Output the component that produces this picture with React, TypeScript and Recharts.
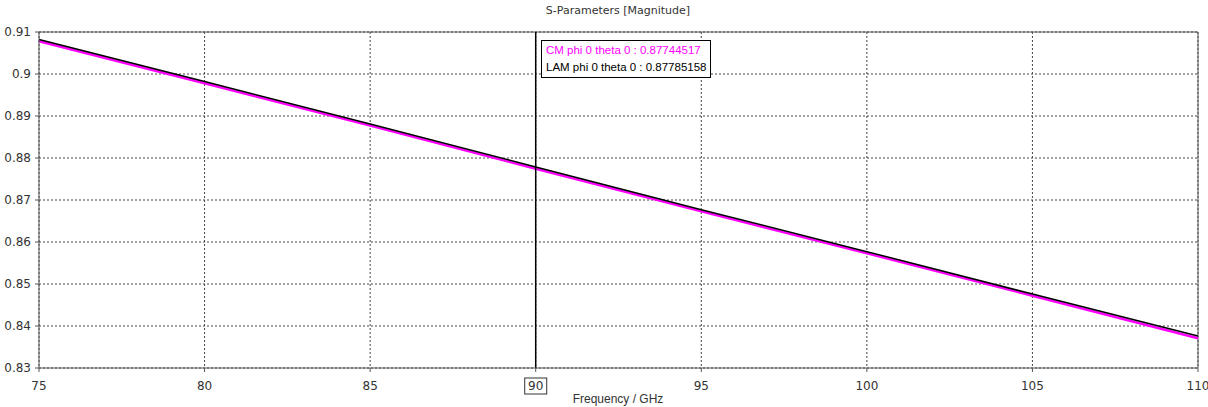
import React from "react";
import { LineChart, Line, XAxis, YAxis, CartesianGrid, ReferenceLine } from "recharts";

const freqs = [75, 80, 85, 90, 95, 100, 105, 110];
const cmValues = [0.9078, 0.8978, 0.8877, 0.87744517, 0.8673, 0.8573, 0.8472, 0.8371];
const lamValues = [0.9082, 0.8982, 0.8881, 0.87785158, 0.8677, 0.8577, 0.8476, 0.8376];
const xTicks = [75, 80, 85, 90, 95, 100, 105, 110];
const yTicks = [0.83, 0.84, 0.85, 0.86, 0.87, 0.88, 0.89, 0.9, 0.91];
const markerFreq = 90;
const title = "S-Parameters [Magnitude]";
const xLabel = "Frequency / GHz";
const legendLines = [
  { text: "CM phi 0 theta 0 : 0.87744517", color: "#ff00ff" },
  { text: "LAM phi 0 theta 0 : 0.87785158", color: "#000000" },
];

const data = freqs.map((f, i) => ({ f, cm: cmValues[i], lam: lamValues[i] }));

const FONT = "Tahoma, 'DejaVu Sans', sans-serif";
const LFONT = "'Liberation Sans', Arial, sans-serif";

const XTick = (props: any) => {
  const { x, y, payload } = props;
  const v = payload.value;
  const label = String(v);
  if (v === markerFreq) {
    return (
      <g>
        <rect x={x - 11} y={y + 4} width={22} height={16} fill="#fff" stroke="#333" strokeWidth={1} />
        <text x={x} y={y + 16} textAnchor="middle" fontSize={12} fill="#333" fontFamily={FONT}>{label}</text>
      </g>
    );
  }
  return (
    <text x={x} y={y + 16} textAnchor="middle" fontSize={12} fill="#333" fontFamily={FONT}>{label}</text>
  );
};

const YTick = (props: any) => {
  const { x, y, payload } = props;
  const v = payload.value;
  const label = v === 0.9 ? "0.9" : v.toFixed(2);
  return (
    <text x={x - 2} y={y + 4} textAnchor="end" fontSize={12} fill="#333" fontFamily={FONT}>{label}</text>
  );
};

export default function App() {
  return (
    <div style={{ position: "absolute", left: 0, top: 0, width: 1208, height: 407, background: "#fff" }}>
      <LineChart width={1208} height={407} data={data} margin={{ top: 32, right: 10, bottom: 0, left: 0 }}>
        <text x={618} y={14} textAnchor="middle" fontSize={11} fill="#333" fontFamily={FONT}>{title}</text>
        <text x={618} y={403} textAnchor="middle" fontSize={12} fill="#333" fontFamily={LFONT}>{xLabel}</text>
        <CartesianGrid stroke="#444" strokeDasharray="2 2" strokeWidth={1} />
        <XAxis
          dataKey="f"
          type="number"
          domain={[75, 110]}
          ticks={xTicks}
          height={39}
          stroke="#555"
          tickLine={{ stroke: "#555" }}
          tickSize={4}
          tick={<XTick />}
          interval={0}
        />
        <YAxis
          type="number"
          domain={[0.83, 0.91]}
          ticks={yTicks}
          width={39}
          stroke="#555"
          tickLine={{ stroke: "#555" }}
          tickSize={4}
          tick={<YTick />}
          interval={0}
        />
        <ReferenceLine y={0.91} stroke="#555" strokeWidth={1} />
        <ReferenceLine x={110} stroke="#555" strokeWidth={1} />
        <Line type="linear" dataKey="cm" stroke="#ff00ff" strokeWidth={2.5} dot={false} isAnimationActive={false} />
        <Line type="linear" dataKey="lam" stroke="#000" strokeWidth={1.5} dot={false} isAnimationActive={false} />
        <ReferenceLine x={markerFreq} stroke="#000" strokeWidth={1.5} />
      </LineChart>
      <div
        style={{
          position: "absolute",
          left: 541,
          top: 40,
          height: 38,
          border: "1px solid #000",
          background: "#fff",
          fontFamily: LFONT,
          fontSize: 11.5,
          lineHeight: "17px",
          padding: "1px 4px 0 4px",
          boxSizing: "border-box",
          whiteSpace: "nowrap",
        }}
      >
        {legendLines.map((l) => (
          <div key={l.text} style={{ color: l.color }}>{l.text}</div>
        ))}
      </div>
    </div>
  );
}
